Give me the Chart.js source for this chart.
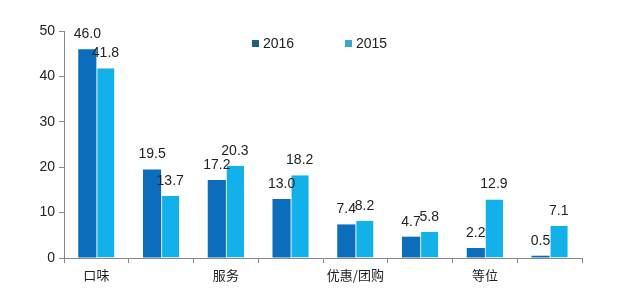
<!DOCTYPE html>
<html>
<head>
<meta charset="utf-8">
<script src="https://cdn.jsdelivr.net/npm/chart.js@4/dist/chart.umd.min.js"></script>
<style>
  html, body { margin: 0; padding: 0; background: #fff; }
  #wrap { width: 623px; height: 299px; }
</style>
</head>
<body>
<div id="wrap"><canvas id="chart" width="623" height="299"></canvas></div>
<script>
const categories = ["口味", "", "服务", "", "优惠/团购", "", "等位", ""];
const values2016 = [46.0, 19.5, 17.2, 13.0, 7.4, 4.7, 2.2, 0.5];
const values2015 = [41.8, 13.7, 20.3, 18.2, 8.2, 5.8, 12.9, 7.1];
const yTicks = [0, 10, 20, 30, 40, 50];

const numFont = "'Liberation Sans', Arial, 'Noto Sans CJK SC', sans-serif";

// 막대 위 숫자 라벨
const valueLabels = {
  id: "valueLabels",
  afterDatasetsDraw(chart) {
    const ctx = chart.ctx;
    ctx.save();
    ctx.font = "14px " + numFont;
    ctx.fillStyle = "#222";
    ctx.textAlign = "center";
    ctx.textBaseline = "bottom";
    chart.data.datasets.forEach((ds, i) => {
      chart.getDatasetMeta(i).data.forEach((bar, j) => {
        ctx.fillText(ds.data[j].toFixed(1), bar.x, bar.y - 8);
      });
    });
    ctx.restore();
  }
};

// 차트 영역 안쪽에 그리는 범례
const innerLegend = {
  id: "innerLegend",
  afterDraw(chart) {
    const ctx = chart.ctx;
    const area = chart.chartArea;
    const markers = ["#1f5f80", "#3aa6c8"];
    let x = 252;
    const y = area.top + 12;
    ctx.save();
    ctx.font = "14px " + numFont;
    ctx.textBaseline = "middle";
    chart.data.datasets.forEach((ds, i) => {
      ctx.fillStyle = markers[i];
      ctx.fillRect(x, y - 3, 7, 7);
      ctx.fillStyle = "#222";
      ctx.fillText(ds.label, x + 11, y + 1);
      x += 93;
    });
    ctx.restore();
  }
};

new Chart(document.getElementById("chart"), {
  type: "bar",
  data: {
    labels: categories,
    datasets: [
      {
        label: "2016",
        data: values2016,
        backgroundColor: "#0b6dbb",
        borderWidth: 0,
        categoryPercentage: 0.56,
        barPercentage: 1
      },
      {
        label: "2015",
        data: values2015,
        backgroundColor: "#12b1ea",
        borderColor: "#d6f1fb",
        borderWidth: { left: 1, right: 0, top: 0, bottom: 0 },
        borderSkipped: false,
        categoryPercentage: 0.56,
        barPercentage: 1
      }
    ]
  },
  options: {
    responsive: false,
    animation: false,
    layout: { padding: { left: 8, right: 41, top: 31, bottom: 0 } },
    plugins: {
      legend: { display: false },
      tooltip: { enabled: false }
    },
    scales: {
      x: {
        grid: {
          offset: true,
          drawOnChartArea: false,
          drawTicks: true,
          tickLength: 5,
          color: "#888"
        },
        border: { display: true, color: "#888" },
        ticks: {
          autoSkip: false,
          maxRotation: 0,
          color: "#222",
          padding: 4,
          font: { size: 13, family: "'Noto Sans CJK SC', sans-serif" }
        },
        afterFit(scale) { scale.height = 41; }
      },
      y: {
        min: 0,
        max: 50,
        afterBuildTicks(scale) { scale.ticks = yTicks.map(v => ({ value: v })); },
        grid: {
          drawOnChartArea: false,
          drawTicks: true,
          tickLength: 5,
          color: "#888"
        },
        border: { display: true, color: "#888" },
        ticks: {
          color: "#222",
          padding: 4,
          font: { size: 14, family: numFont }
        },
        afterFit(scale) { scale.width = 56; }
      }
    }
  },
  plugins: [valueLabels, innerLegend]
});
</script>
</body>
</html>
